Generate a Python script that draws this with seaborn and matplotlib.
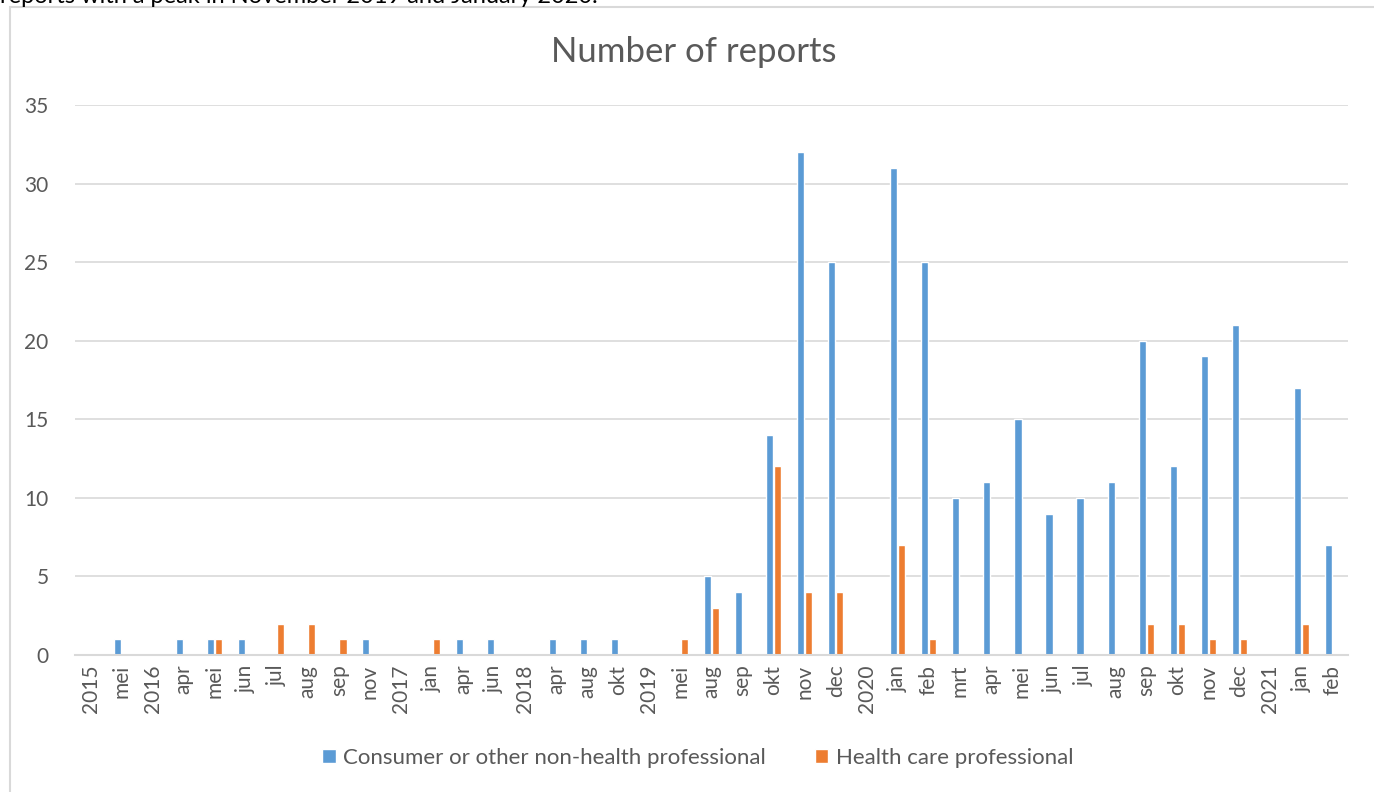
import matplotlib
matplotlib.use("Agg")
import matplotlib.pyplot as plt
import seaborn as sns
import pandas as pd
from matplotlib.patches import Rectangle

categories = ["2015", "mei", "2016", "apr", "mei", "jun", "jul", "aug", "sep", "nov",
              "2017", "jan", "apr", "jun", "2018", "apr", "aug", "okt", "2019", "mei",
              "aug", "sep", "okt", "nov", "dec", "2020", "jan", "feb", "mrt", "apr",
              "mei", "jun", "jul", "aug", "sep", "okt", "nov", "dec", "2021", "jan", "feb"]
consumer = [0, 1, 0, 1, 1, 1, 0, 0, 0, 1,
            0, 0, 1, 1, 0, 1, 1, 1, 0, 0,
            5, 4, 14, 32, 25, 0, 31, 25, 10, 11,
            15, 9, 10, 11, 20, 12, 19, 21, 0, 17, 7]
hcp = [0, 0, 0, 0, 1, 0, 2, 2, 1, 0,
       0, 1, 0, 0, 0, 0, 0, 0, 0, 1,
       3, 0, 12, 4, 4, 0, 7, 1, 0, 0,
       0, 0, 0, 0, 2, 2, 1, 1, 0, 2, 0]
series_names = ["Consumer or other non-health professional", "Health care professional"]
title = "Number of reports"
caption = "reports with a peak in November 2019 and January 2020."

n = len(categories)
df = pd.DataFrame({
    "pos": list(range(n)) * 2,
    "value": consumer + hcp,
    "series": [series_names[0]] * n + [series_names[1]] * n,
})

sns.set_theme(style="white")
plt.rcParams["font.family"] = ["Lato", "DejaVu Sans"]

fig = plt.figure(figsize=(13.74, 7.92), dpi=100)
ax = fig.add_axes([75 / 1374, 1 - 655 / 792, (1348 - 75) / 1374, 550 / 792])

palette = {series_names[0]: "#5b9bd5", series_names[1]: "#ed7d31"}
sns.barplot(data=df, x="pos", y="value", hue="series", palette=palette,
            width=0.52, gap=0.12, ax=ax, legend=True, saturation=1)

ax.set_ylim(0, 35)
ax.set_xlim(-0.5, n - 0.5)
ax.set_yticks(range(0, 36, 5))
ax.yaxis.grid(True, color="#d9d9d9", linewidth=1.2)
ax.set_axisbelow(True)
for s in ["top", "right", "left"]:
    ax.spines[s].set_visible(False)
ax.spines["bottom"].set_color("#d9d9d9")
ax.spines["bottom"].set_linewidth(1.5)
ax.set_xticks(range(n))
ax.set_xticklabels(categories, rotation=90, fontsize=15, color="#595959")
ax.tick_params(axis="y", labelsize=15, labelcolor="#595959", length=0, pad=19)
ax.tick_params(axis="x", length=0, pad=7)
ax.set_xlabel("")
ax.set_ylabel("")

fig.text(694 / 1374, 1 - 52 / 792, title, ha="center", va="center", fontsize=25, color="#595959")

leg = ax.legend(loc="center", bbox_to_anchor=((698 - 75) / 1273, -(758 - 655) / 550), ncol=2,
                frameon=False, fontsize=16, handlelength=0.6, handleheight=0.6,
                columnspacing=2.2, handletextpad=0.35)
for t in leg.get_texts():
    t.set_color("#595959")

fig.patches.append(Rectangle((10 / 1374, -0.1), 1.2, 1 - 7 / 792 + 0.1,
                             transform=fig.transFigure, fill=False,
                             edgecolor="#d9d9d9", linewidth=1.5))
fig.text(0.0, 1 + 3 / 792, caption, ha="left", va="center", fontsize=17, color="black")

fig.savefig("out.png", dpi=100)
